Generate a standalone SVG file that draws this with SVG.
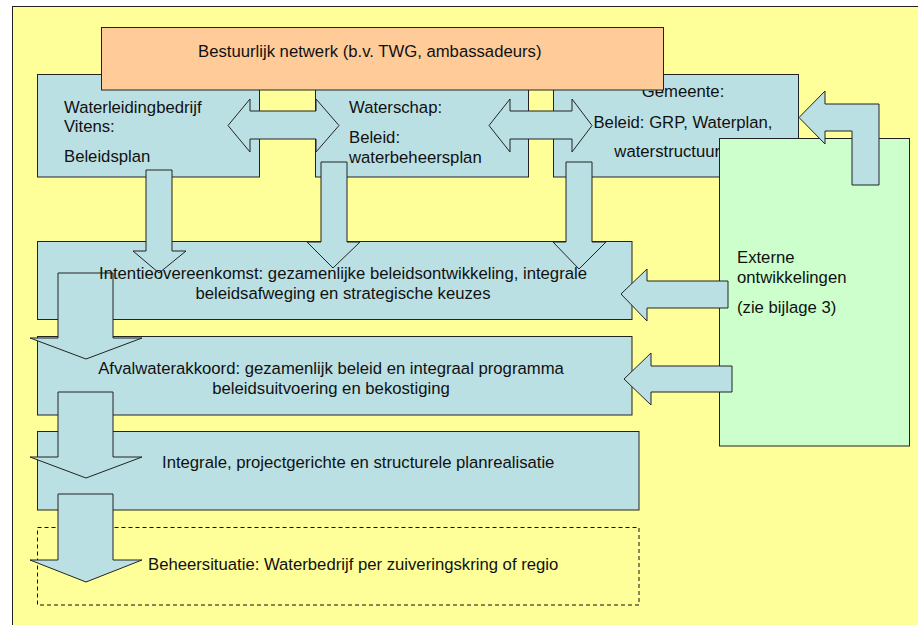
<svg xmlns="http://www.w3.org/2000/svg" width="918" height="625" viewBox="0 0 918 625">
<style>
.box{fill:#BBE0E3;stroke:#222;stroke-width:1}
.arr{fill:#BBE0E3;stroke:#222;stroke-width:1;stroke-linejoin:miter}
.t{font-family:"Liberation Sans",Arial,sans-serif;font-size:16.7px;fill:#111}
.m{text-anchor:middle}
</style>
<rect x="0" y="0" width="918" height="625" fill="#ffffff"/>
<rect x="12.5" y="6.5" width="920" height="640" fill="#FFFF99" stroke="#222" stroke-width="1"/>

<g id="vitens">
<rect class="box" x="37.5" y="74.5" width="222" height="102.5"/>
<text class="t" x="64" y="113">Waterleidingbedrijf</text>
<text class="t" x="64" y="131.5">Vitens:</text>
<text class="t" x="64" y="162">Beleidsplan</text>
</g>
<g id="waterschap">
<rect class="box" x="315.5" y="74.5" width="213" height="102.5"/>
<text class="t" x="349" y="113">Waterschap:</text>
<text class="t" x="349" y="143">Beleid:</text>
<text class="t" x="349" y="163">waterbeheersplan</text>
</g>
<g id="gemeente">
<rect class="box" x="553.5" y="74.5" width="245" height="102.5"/>
<text class="t m" x="683" y="97">Gemeente:</text>
<text class="t m" x="683" y="128">Beleid: GRP, Waterplan,</text>
<text class="t m" x="683" y="157">waterstructuurplan</text>
</g>
<g id="bestuurlijk-netwerk">
<rect x="101.5" y="27.5" width="562" height="62.5" fill="#FFCC99" stroke="#222" stroke-width="1"/>
<text class="t" x="198" y="57">Bestuurlijk netwerk (b.v. TWG, ambassadeurs)</text>
</g>
<g id="externe-ontwikkelingen">
<rect x="719.5" y="138.5" width="190" height="307.5" fill="#CCFFCC" stroke="#222" stroke-width="1"/>
<text class="t" x="737" y="263">Externe</text>
<text class="t" x="737" y="283">ontwikkelingen</text>
<text class="t" x="737" y="313">(zie bijlage 3)</text>
</g>
<g id="intentieovereenkomst">
<rect class="box" x="37.5" y="241.5" width="594.5" height="78"/>
</g>
<g id="afvalwaterakkoord">
<rect class="box" x="37.5" y="336.5" width="594.5" height="78.5"/>
</g>
<g id="planrealisatie">
<rect class="box" x="37.5" y="431.5" width="601.5" height="78.5"/>
</g>
<g id="beheersituatie">
<rect x="37.5" y="527.5" width="601.5" height="77.5" fill="none" stroke="#111" stroke-width="1" stroke-dasharray="4 3"/>
</g>

<g id="connectors">
<polygon class="arr" points="228,125.5 250,99 250,111 316,111 316,99 339,125.5 316,152 316,139 250,139 250,152"/>
<polygon class="arr" points="489,125.5 510,99 510,111 572,111 572,99 592,125.5 572,152 572,139 510,139 510,152"/>
<polygon class="arr" points="799,117.5 825,91 825,104 879,104 879,185 852,185 852,131 825,131 825,144"/>
<polygon class="arr" points="146,170 172,170 172,251 186,251 159,273 133,251 146,251"/>
<polygon class="arr" points="321,162 347,162 347,242 360,242 333,268 307,242 321,242"/>
<polygon class="arr" points="566,162 592,162 592,242 606,242 579,269 553,242 566,242"/>
<polygon class="arr" points="58,273 113,273 113,338 142,338 86,359 30,338 58,338"/>
<polygon class="arr" points="58,392 113,392 113,457 142,457 86,478 30,457 58,457"/>
<polygon class="arr" points="58,494 113,494 113,560 142,560 86,582 30,560 58,560"/>
<polygon class="arr" points="621,294 647,269 647,281 728,281 728,308 647,308 647,321"/>
<polygon class="arr" points="624,379 651,353 651,366 732,366 732,392 651,392 651,405"/>
</g>

<g id="labels">
<text class="t m" x="343" y="279">Intentieovereenkomst: gezamenlijke beleidsontwikkeling, integrale</text>
<text class="t m" x="343" y="299">beleidsafweging en strategische keuzes</text>
<text class="t m" x="331" y="374">Afvalwaterakkoord: gezamenlijk beleid en integraal programma</text>
<text class="t m" x="331" y="394">beleidsuitvoering en bekostiging</text>
<text class="t" x="162" y="468">Integrale, projectgerichte en structurele planrealisatie</text>
<text class="t" x="148" y="570">Beheersituatie: Waterbedrijf per zuiveringskring of regio</text>
</g>
</svg>
